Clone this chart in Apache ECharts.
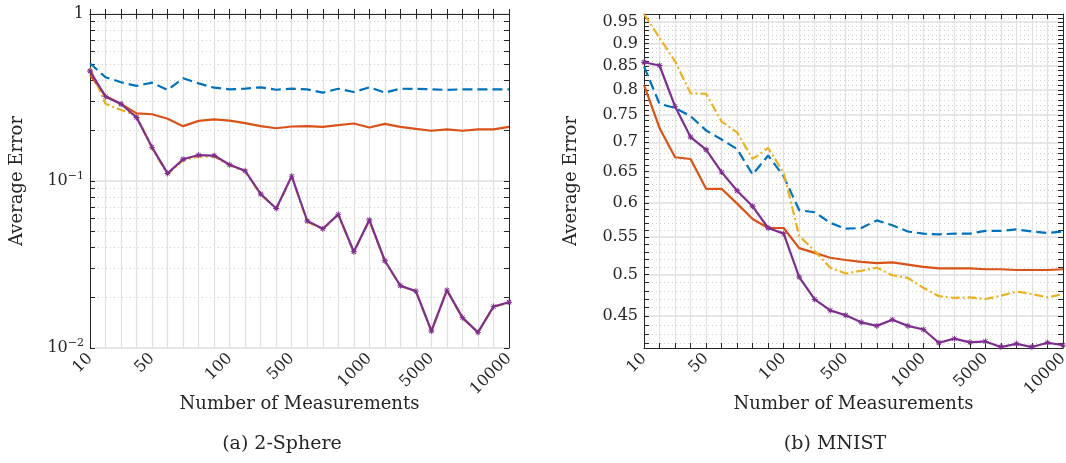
<!DOCTYPE html>
<html>
<head>
<meta charset="utf-8">
<script src="https://cdn.jsdelivr.net/npm/echarts@6/dist/echarts.min.js"></script>
<style>
html,body{margin:0;padding:0;background:#fff;}
#chart{width:1066px;height:463px;}
</style>
</head>
<body>
<div id="chart"></div>
<script>
// ---------- data ----------
const categories = ['10','20','30','40','50','60','70','80','90','100',
  '200','300','400','500','600','700','800','900','1000',
  '2000','3000','4000','5000','6000','7000','8000','9000','10000'];
const xTickLabels = ['10','50','100','500','1000','5000','10000'];

// (a) 2-Sphere
const sphereBlue   = [0.507,0.418,0.390,0.371,0.388,0.351,0.412,0.384,0.362,0.354,0.357,0.364,0.352,0.357,0.354,0.338,0.357,0.341,0.364,0.338,0.357,0.356,0.354,0.351,0.354,0.354,0.354,0.354];
const sphereOrange = [0.431,0.323,0.289,0.254,0.251,0.236,0.213,0.229,0.234,0.230,0.222,0.213,0.207,0.212,0.213,0.211,0.216,0.221,0.209,0.220,0.211,0.205,0.200,0.204,0.200,0.204,0.204,0.211];
const sphereYellow = [0.473,0.290,0.266,0.247,0.157,0.110,0.133,0.140,0.140,0.124,0.114,0.083,0.068,0.106,0.057,0.0515,0.0627,0.0375,0.058,0.0331,0.0235,0.0218,0.0126,0.0221,0.0151,0.0124,0.0176,0.0187];
const spherePurple = [0.456,0.320,0.289,0.240,0.159,0.111,0.135,0.143,0.142,0.125,0.115,0.0836,0.0685,0.107,0.0576,0.0518,0.0631,0.0377,0.0584,0.0333,0.0236,0.0219,0.01264,0.0222,0.0152,0.0124,0.0177,0.0188];

// (b) MNIST
const mnistBlue   = [0.849,0.772,0.764,0.748,0.7215,0.705,0.688,0.645,0.677,0.642,0.589,0.586,0.5705,0.562,0.563,0.574,0.567,0.558,0.555,0.554,0.555,0.555,0.559,0.559,0.561,0.558,0.556,0.558];
const mnistOrange = [0.810,0.726,0.674,0.671,0.622,0.622,0.599,0.576,0.563,0.563,0.535,0.5285,0.522,0.519,0.5166,0.515,0.516,0.513,0.510,0.508,0.508,0.508,0.507,0.507,0.506,0.506,0.506,0.507];
const mnistYellow = [0.970,0.913,0.860,0.793,0.792,0.738,0.718,0.671,0.690,0.6475,0.552,0.531,0.509,0.5015,0.505,0.509,0.4993,0.496,0.4836,0.4734,0.4714,0.472,0.470,0.474,0.479,0.476,0.472,0.476];
const mnistPurple = [0.858,0.851,0.767,0.7095,0.687,0.649,0.619,0.595,0.563,0.555,0.497,0.4695,0.4566,0.451,0.443,0.439,0.446,0.439,0.435,0.4206,0.425,0.421,0.422,0.416,0.4195,0.416,0.4206,0.418];

// tick values
const sphereYTicks = [0.01, 0.1, 1];
const sphereYLabels = ['10|−2', '10|−1', '1'];
const sphereYRange = [0.01, 1];
const mnistYTicks = [0.45,0.5,0.55,0.6,0.65,0.7,0.75,0.8,0.85,0.9,0.95];
const mnistYLabels = ['0.45','0.5','0.55','0.6','0.65','0.7','0.75','0.8','0.85','0.9','0.95'];
const mnistYRange = [0.415, 0.97];
const captions = ['(a) 2-Sphere', '(b) MNIST'];

// ---------- helpers ----------
const L = v => Math.log10(v);
const sphereMinor = [];
[0.01, 0.1].forEach(d => { for (let k = 1; k <= 10; k++) sphereMinor.push(L(d * k)); });
const mnistMinor = [];
for (let k = 42; k <= 97; k++) mnistMinor.push(L(k / 100));

const FONT = '"DejaVu Serif", "Liberation Serif", serif';
const TXT = '#262626';
const AX = '#262626';
const C = {blue:'#0072BD', orange:'#D95319', yellow:'#EDB120', purple:'#7E2F8E'};
const STAR = 'path://M-15,-100L15,-100L15,100L-15,100Z M-100,-15L100,-15L100,15L-100,15Z M-81,-60L-60,-81L81,60L60,81Z M60,-81L81,-60L-60,81L-81,60Z';

const grids = [
  {left: 90, top: 14, width: 419, height: 334},
  {left: 644, top: 14, width: 419, height: 334}
];

function xAxes(g) {
  return [
    {
      type: 'category', gridIndex: g, data: categories, boundaryGap: false, position: 'bottom',
      name: 'Number of Measurements', nameLocation: 'middle', nameGap: 47, nameMoveOverlap: false,
      nameTextStyle: {fontFamily: FONT, fontSize: 18, color: TXT},
      axisLine: {show: true, lineStyle: {color: AX, width: 1}},
      axisTick: {show: true, inside: true, length: 5, interval: 0, lineStyle: {color: AX}},
      axisLabel: {
        interval: (i, v) => xTickLabels.indexOf(v) >= 0,
        rotate: 45, margin: 8, fontFamily: FONT, fontSize: 16, color: TXT
      },
      splitLine: {show: true, interval: 0, lineStyle: {color: '#e0e0e0', width: 1.2}}
    },
    {
      type: 'category', gridIndex: g, data: categories, boundaryGap: false, position: 'top',
      axisLine: {show: true, lineStyle: {color: AX, width: 1}},
      axisTick: {show: true, inside: true, length: 5, interval: 0, lineStyle: {color: AX}},
      axisLabel: {show: false}, splitLine: {show: false}
    }
  ];
}

function yAxes(g, range, ticks, minors, labelFor) {
  const lo = L(range[0]), hi = L(range[1]);
  const majors = ticks.map(L);
  const base = {type: 'value', gridIndex: g, min: lo, max: hi, scale: true};
  return [
    Object.assign({}, base, {
      position: 'left',
      name: 'Average Error', nameLocation: 'middle', nameGap: 64, nameMoveOverlap: false,
      nameTextStyle: {fontFamily: FONT, fontSize: 18, color: TXT},
      axisLine: {show: true, onZero: false, lineStyle: {color: AX, width: 1}},
      axisTick: {show: true, inside: true, length: 5, customValues: minors, lineStyle: {color: AX}},
      axisLabel: {
        show: true, customValues: majors, margin: 6,
        fontFamily: FONT, fontSize: 16, color: TXT,
        formatter: v => labelFor(v),
        rich: {
          b: {fontFamily: FONT, fontSize: 16, color: TXT, lineHeight: 20},
          s: {fontFamily: FONT, fontSize: 11, color: TXT, verticalAlign: 'top', lineHeight: 12}
        }
      },
      splitLine: {show: true, lineStyle: {color: '#cfcfcf', width: 1, type: [1, 3]}}
    }),
    Object.assign({}, base, {
      position: 'right',
      axisLine: {show: true, onZero: false, lineStyle: {color: AX, width: 1}},
      axisTick: {show: true, inside: true, length: 5, customValues: minors, lineStyle: {color: AX}},
      axisLabel: {show: false}, splitLine: {show: false}
    }),
    Object.assign({}, base, {
      position: 'right',
      axisLine: {show: false},
      axisTick: {show: false, customValues: majors},
      axisLabel: {show: false},
      splitLine: {show: true, lineStyle: {color: '#e0e0e0', width: 1.5}}
    })
  ];
}

function nearestLabel(v, ticks, labels) {
  let best = 0, bd = Infinity;
  ticks.forEach((t, i) => { const d = Math.abs(L(t) - v); if (d < bd) { bd = d; best = i; } });
  return labels[best];
}

const sphereLabel = v => {
  const s = nearestLabel(v, sphereYTicks, sphereYLabels);
  if (s.indexOf('|') < 0) return '{b|' + s + '}';
  const p = s.split('|');
  return '{b|' + p[0] + '}{s|' + p[1] + '}';
};
const mnistLabel = v => '{b|' + nearestLabel(v, mnistYTicks, mnistYLabels) + '}';

function lineSeries(name, data, g, color, type, marker) {
  return {
    name, type: 'line', xAxisIndex: g * 2, yAxisIndex: g * 3,
    data: data.map(L),
    symbol: marker ? STAR : 'none', symbolSize: 6, showSymbol: !!marker,
    lineStyle: {color, width: 2.2, type},
    itemStyle: {color},
    animation: false, z: 3
  };
}

const dashed = [10, 5];
const dashDot = [9, 3, 2, 3];

const option = {
  backgroundColor: '#ffffff',
  animation: false,
  grid: grids.map(g => Object.assign({outerBoundsMode: 'none', containLabel: false}, g)),
  title: [
    {text: captions[0], left: 277, top: 430, textAlign: 'center',
     textStyle: {fontFamily: FONT, fontSize: 19, fontWeight: 'normal', color: TXT}},
    {text: captions[1], left: 830, top: 430, textAlign: 'center',
     textStyle: {fontFamily: FONT, fontSize: 19, fontWeight: 'normal', color: TXT}}
  ],
  xAxis: [...xAxes(0), ...xAxes(1)],
  yAxis: [
    ...yAxes(0, sphereYRange, sphereYTicks, sphereMinor, sphereLabel),
    ...yAxes(1, mnistYRange, mnistYTicks, mnistMinor, mnistLabel)
  ],
  series: [
    lineSeries('Blue', sphereBlue, 0, C.blue, dashed, false),
    lineSeries('Orange', sphereOrange, 0, C.orange, 'solid', false),
    lineSeries('Yellow', sphereYellow, 0, C.yellow, dashDot, false),
    lineSeries('Purple', spherePurple, 0, C.purple, 'solid', true),
    lineSeries('Blue', mnistBlue, 1, C.blue, dashed, false),
    lineSeries('Orange', mnistOrange, 1, C.orange, 'solid', false),
    lineSeries('Yellow', mnistYellow, 1, C.yellow, dashDot, false),
    lineSeries('Purple', mnistPurple, 1, C.purple, 'solid', true)
  ]
};

const chart = echarts.init(document.getElementById('chart'), null, {renderer: 'canvas'});
chart.setOption(option);
</script>
</body>
</html>
